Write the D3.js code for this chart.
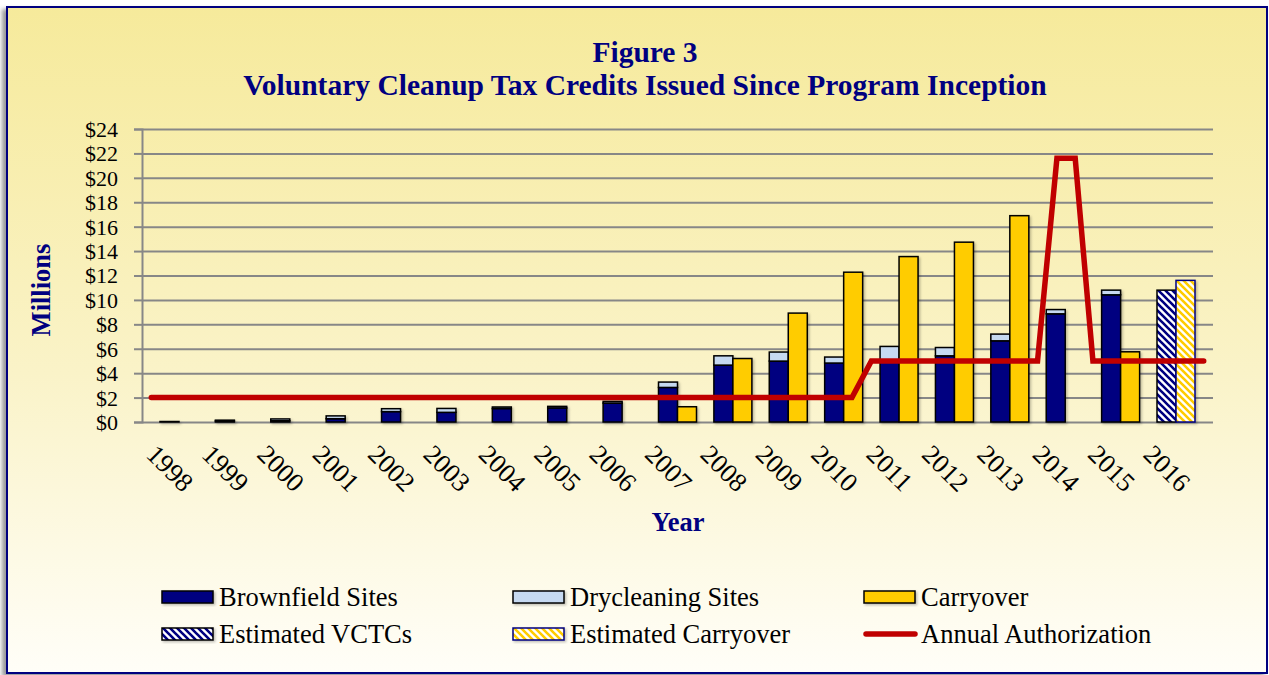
<!DOCTYPE html>
<html>
<head>
<meta charset="utf-8">
<script src="https://cdn.jsdelivr.net/npm/d3@7"></script>
<style>
  body { margin: 0; background: #fff; }
  svg { display: block; font-family: "Liberation Serif", "Times New Roman", serif; }
</style>
</head>
<body>
<svg id="chart" width="1269" height="675"></svg>
<script>
// values in $ millions
var years = ["1998","1999","2000","2001","2002","2003","2004","2005","2006","2007",
             "2008","2009","2010","2011","2012","2013","2014","2015","2016"];
var brownfield  = [0.04,0.08,0.10,0.27,0.85,0.79,1.10,1.15,1.55,2.83,4.66,4.99,4.83,5.00,5.42,6.65,8.86,10.42,0];
var drycleaning = [0,0.07,0.15,0.23,0.24,0.32,0.13,0.13,0.14,0.44,0.76,0.74,0.49,1.19,0.68,0.55,0.35,0.38,0];
var carryover   = [0,0,0,0,0,0,0,0,0,1.25,5.20,8.92,12.27,13.55,14.73,16.90,0,5.75,0];
var estVCTCs    = [0,0,0,0,0,0,0,0,0,0,0,0,0,0,0,0,0,0,10.8];
var estCarry    = [0,0,0,0,0,0,0,0,0,0,0,0,0,0,0,0,0,0,11.6];

// annual authorization, step line (x in year position, start of year = year)
var authX = [1998, 2010.65, 2011, 2014, 2014.35, 2014.68, 2015, 2017];
var authY = [2, 2, 5, 5, 21.6, 21.6, 5, 5];

var yTicks = [0,2,4,6,8,10,12,14,16,18,20,22,24];

var navy = "#000080", light = "#C6D9F1", gold = "#FFCC00", red = "#C00000", grid = "#878787";

var svg = d3.select("#chart");
var defs = svg.append("defs");

var bg = defs.append("linearGradient").attr("id","bg").attr("x1",0).attr("y1",0).attr("x2",0).attr("y2",1);
bg.append("stop").attr("offset","0%").attr("stop-color","#F6EA9B");
bg.append("stop").attr("offset","55%").attr("stop-color","#FAF3C8");
bg.append("stop").attr("offset","100%").attr("stop-color","#FFFEF8");

var sh = defs.append("filter").attr("id","frameShadow").attr("x","-5%").attr("y","-5%").attr("width","110%").attr("height","110%");
sh.append("feDropShadow").attr("dx",-4).attr("dy",3).attr("stdDeviation",2).attr("flood-color","#555").attr("flood-opacity",0.6);

var bs = defs.append("filter").attr("id","barShadow").attr("x","-20%").attr("y","-20%").attr("width","150%").attr("height","150%");
bs.append("feDropShadow").attr("dx",1.5).attr("dy",1.5).attr("stdDeviation",1).attr("flood-color","#000").attr("flood-opacity",0.25);

function hatch(id, color) {
  var p = defs.append("pattern").attr("id", id).attr("patternUnits","userSpaceOnUse")
    .attr("width",7).attr("height",7);
  p.append("rect").attr("width",7).attr("height",7).attr("fill","#fff");
  p.append("path").attr("d","M-1,-1 L8,8 M-1,6 L1,8 M6,-1 L8,1")
    .attr("stroke", color).attr("stroke-width",2.6);
}
hatch("hatchNavy", navy);
hatch("hatchGold", gold);

// frame
svg.append("rect").attr("x",7).attr("y",7).attr("width",1260).attr("height",666)
  .attr("fill","url(#bg)").attr("stroke",navy).attr("stroke-width",2)
  .attr("filter","url(#frameShadow)");

// titles
svg.append("text").attr("x",645).attr("y",62).attr("text-anchor","middle")
  .attr("font-weight","bold").attr("font-size",29.5).attr("fill",navy).text("Figure 3");
svg.append("text").attr("x",645).attr("y",95).attr("text-anchor","middle")
  .attr("font-weight","bold").attr("font-size",29.5).attr("fill",navy)
  .text("Voluntary Cleanup Tax Credits Issued Since Program Inception");

var plotL = 142, plotR = 1213, plotT = 129, plotB = 422;

var x = d3.scaleBand().domain(years).range([151.3, 1203.7]).padding(0);
var y = d3.scaleLinear().domain([0,24]).range([plotB, plotT]);
var xLine = d3.scaleLinear().domain([1998, 2017]).range(x.range());
var barW = x.bandwidth() * 0.343;
function cx(i) { return x(years[i]) + x.bandwidth() / 2; }

// gridlines
svg.append("g").attr("transform","translate(" + plotL + ",0)")
  .call(d3.axisLeft(y).tickValues(yTicks).tickSize(-(plotR - plotL)).tickFormat(""))
  .call(function(g) {
    g.select(".domain").remove();
    g.selectAll(".tick line").attr("stroke",grid).attr("stroke-width",2);
  });

// y axis
svg.append("g").attr("transform","translate(" + plotL + ",0)")
  .call(d3.axisLeft(y).tickValues(yTicks).tickSize(8).tickPadding(16).tickFormat(function(d){ return "$" + d; }))
  .call(function(g) {
    g.select(".domain").attr("stroke",grid).attr("stroke-width",2);
    g.selectAll(".tick line").attr("stroke",grid).attr("stroke-width",2);
    g.selectAll(".tick text").attr("font-family","Liberation Serif").attr("font-size",22)
      .attr("fill","#000").attr("dy","0.34em");
  });

// x axis labels
svg.append("g").attr("transform","translate(0," + plotB + ")")
  .call(d3.axisBottom(x).tickSize(0).tickFormat(function(d){ return d; }))
  .call(function(g) {
    g.select(".domain").remove();
    g.selectAll(".tick text").attr("font-family","Liberation Serif").attr("font-size",26.5)
      .attr("fill","#000").attr("text-anchor","start").attr("y",0).attr("dy",0)
      .attr("transform","translate(-34,34) rotate(45)");
  });

// bars
var bars = svg.append("g").attr("filter","url(#barShadow)");
var idx = d3.range(years.length);

bars.selectAll(".bf").data(idx.filter(function(i){ return brownfield[i] > 0; })).enter()
  .append("rect").attr("x", function(i){ return cx(i) - barW; })
  .attr("y", function(i){ return y(brownfield[i]); })
  .attr("width", barW).attr("height", function(i){ return y(0) - y(brownfield[i]); })
  .attr("fill", navy).attr("stroke","#000").attr("stroke-width",1.5);

bars.selectAll(".dc").data(idx.filter(function(i){ return drycleaning[i] > 0; })).enter()
  .append("rect").attr("x", function(i){ return cx(i) - barW; })
  .attr("y", function(i){ return y(brownfield[i] + drycleaning[i]); })
  .attr("width", barW).attr("height", function(i){ return y(brownfield[i]) - y(brownfield[i] + drycleaning[i]); })
  .attr("fill", light).attr("stroke","#000").attr("stroke-width",1.5);

bars.selectAll(".co").data(idx.filter(function(i){ return carryover[i] > 0; })).enter()
  .append("rect").attr("x", function(i){ return cx(i); })
  .attr("y", function(i){ return y(carryover[i]); })
  .attr("width", barW).attr("height", function(i){ return y(0) - y(carryover[i]); })
  .attr("fill", gold).attr("stroke","#000").attr("stroke-width",1.5);

bars.selectAll(".ev").data(idx.filter(function(i){ return estVCTCs[i] > 0; })).enter()
  .append("rect").attr("x", function(i){ return cx(i) - barW; })
  .attr("y", function(i){ return y(estVCTCs[i]); })
  .attr("width", barW).attr("height", function(i){ return y(0) - y(estVCTCs[i]); })
  .attr("fill", "url(#hatchNavy)").attr("stroke","#000").attr("stroke-width",1.5);

bars.selectAll(".ec").data(idx.filter(function(i){ return estCarry[i] > 0; })).enter()
  .append("rect").attr("x", function(i){ return cx(i); })
  .attr("y", function(i){ return y(estCarry[i]); })
  .attr("width", barW).attr("height", function(i){ return y(0) - y(estCarry[i]); })
  .attr("fill", "url(#hatchGold)").attr("stroke",navy).attr("stroke-width",1.5);

// authorization line
var line = d3.line().x(function(d){ return xLine(d[0]); }).y(function(d){ return y(d[1]); });
svg.append("path").datum(d3.zip(authX, authY)).attr("d", line)
  .attr("fill","none").attr("stroke",red).attr("stroke-width",5.5)
  .attr("stroke-linecap","round").attr("stroke-linejoin","miter");

// axis titles
svg.append("text").attr("transform","translate(50,290) rotate(-90)").attr("text-anchor","middle")
  .attr("font-weight","bold").attr("font-size",26.5).attr("fill",navy).text("Millions");
svg.append("text").attr("x",678).attr("y",531).attr("text-anchor","middle")
  .attr("font-weight","bold").attr("font-size",26.5).attr("fill",navy).text("Year");

// legend
var legend = [
  {label:"Brownfield Sites", fill:navy, stroke:"#000", col:0, row:0},
  {label:"Drycleaning Sites", fill:light, stroke:"#000", col:1, row:0},
  {label:"Carryover", fill:gold, stroke:"#000", col:2, row:0},
  {label:"Estimated VCTCs", fill:"url(#hatchNavy)", stroke:"#000", col:0, row:1},
  {label:"Estimated Carryover", fill:"url(#hatchGold)", stroke:navy, col:1, row:1},
  {label:"Annual Authorization", line:true, col:2, row:1}
];
var colX = [162, 513, 864], rowY = [597, 634];
var lg = svg.append("g").selectAll("g").data(legend).enter().append("g")
  .attr("transform", function(d){ return "translate(" + colX[d.col] + "," + rowY[d.row] + ")"; });
lg.filter(function(d){ return !d.line; }).append("rect")
  .attr("x",0).attr("y",-6).attr("width",51).attr("height",12)
  .attr("fill", function(d){ return d.fill; }).attr("stroke", function(d){ return d.stroke; })
  .attr("stroke-width",1.5).attr("filter","url(#barShadow)");
lg.filter(function(d){ return d.line; }).append("line")
  .attr("x1",2).attr("x2",51).attr("y1",0).attr("y2",0)
  .attr("stroke",red).attr("stroke-width",5.5).attr("stroke-linecap","round");
lg.append("text").attr("x",57).attr("y",8.5).attr("font-size",26.5).attr("fill","#000")
  .text(function(d){ return d.label; });
</script>
</body>
</html>
